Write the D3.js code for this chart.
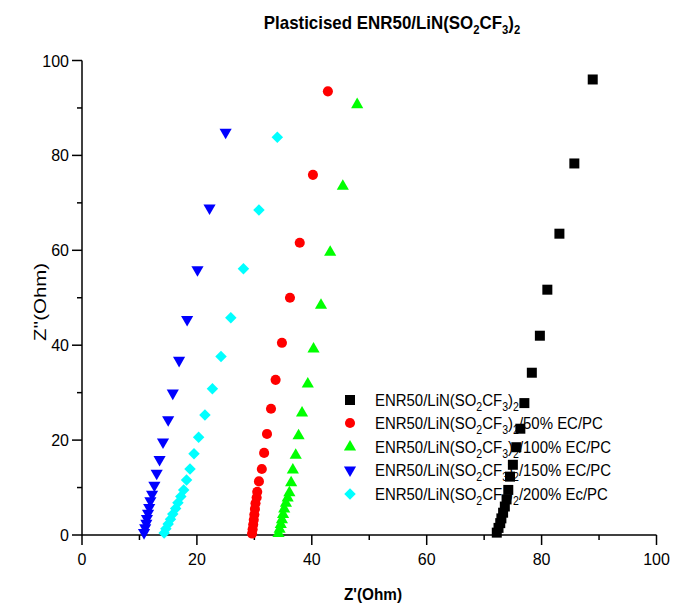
<!DOCTYPE html>
<html><head><meta charset="utf-8">
<script src="https://cdn.jsdelivr.net/npm/d3@7"></script>
<style>body{margin:0;background:#fff}svg{display:block;font-family:Arial,"Liberation Sans",sans-serif}</style>
</head><body><svg id="c" width="676" height="605"></svg>
<script>
const seriesNames = ["", "/50% EC/PC", "/100% EC/PC", "/150% EC/PC", "/200% Ec/PC"];
const seriesColors = ["#000000", "#ff0000", "#00ff00", "#0000ff", "#00ffff"];
const xTicks = [0, 20, 40, 60, 80, 100];
const yTicks = [0, 20, 40, 60, 80, 100];

const zr0 = [72.2,72.5,72.8,73.0,73.3,73.6,73.9,74.2,74.5,75.0,75.6,76.3,77.0,78.3,79.7,81.0,83.1,85.7,88.9];
const zi0 = [0.5,1.5,2.5,3.5,4.7,6.0,7.5,9.5,12.3,14.8,18.5,22.4,27.8,34.2,42.0,51.7,63.5,78.3,96.0];
const zr1 = [29.6,29.7,29.8,29.9,30.0,30.1,30.2,30.4,30.5,30.8,31.3,31.7,32.2,32.9,33.7,34.8,36.2,37.9,40.2,42.8];
const zi1 = [0.3,1.2,2.2,3.2,4.3,5.5,6.7,7.9,9.1,11.3,13.9,17.3,21.3,26.6,32.7,40.5,50.0,61.6,75.9,93.5];
const zr2 = [34.2,34.4,34.6,34.8,35.0,35.2,35.5,35.8,36.1,36.4,36.7,37.2,37.7,38.3,39.3,40.3,41.6,43.2,45.4,47.9];
const zi2 = [0.3,1.2,2.2,3.2,4.3,5.5,6.7,7.8,8.9,11.0,13.7,16.8,20.9,25.7,31.8,39.2,48.4,59.6,73.5,90.7];
const zr3 = [10.8,11.0,11.2,11.3,11.5,11.7,11.9,12.2,12.6,13.0,13.5,14.1,15.0,15.8,16.9,18.3,20.1,22.2,25.0];
const zi3 = [0.5,1.5,2.5,3.5,4.6,5.8,7.2,8.6,10.5,13.0,15.9,19.6,24.3,29.9,36.8,45.4,55.9,68.9,84.9];
const zr4 = [14.3,14.6,15.0,15.4,15.8,16.3,16.7,17.2,17.7,18.2,18.8,19.5,20.3,21.4,22.7,24.2,25.9,28.1,30.8,34.0];
const zi4 = [0.4,1.3,2.3,3.3,4.4,5.6,6.8,8.1,9.5,11.6,13.9,17.1,20.6,25.3,30.8,37.6,45.8,56.1,68.5,83.8];

const allR = [zr0, zr1, zr2, zr3, zr4];
const allI = [zi0, zi1, zi2, zi3, zi4];

const svg = d3.select("#c");
const x = d3.scaleLinear().domain([0, 100]).range([82, 656.5]);
const y = d3.scaleLinear().domain([0, 100]).range([535, 60.5]);

const symDefs = [
  {t: d3.symbolSquare, s: 100, r: 0},
  {t: d3.symbolCircle, s: 80, r: 0},
  {t: d3.symbolTriangle, s: 64, r: 0},
  {t: d3.symbolTriangle, s: 64, r: 180},
  {t: d3.symbolSquare, s: 66, r: 45}
];
function sym(i){ return d3.symbol().type(symDefs[i].t).size(symDefs[i].s)(); }

// axes
const xMinor = d3.range(10, 100, 20);
const yMinor = d3.range(10, 100, 20);
const ax = svg.append("g").attr("stroke", "#000").attr("stroke-width", 1.5);
ax.append("line").attr("x1", x(0)).attr("x2", x(100)).attr("y1", y(0)).attr("y2", y(0));
ax.append("line").attr("x1", x(0)).attr("x2", x(0)).attr("y1", y(0)).attr("y2", y(100));
xTicks.forEach(v => ax.append("line").attr("x1", x(v)).attr("x2", x(v)).attr("y1", y(0)).attr("y2", y(0) + 10));
xMinor.forEach(v => ax.append("line").attr("x1", x(v)).attr("x2", x(v)).attr("y1", y(0)).attr("y2", y(0) + 5));
yTicks.forEach(v => ax.append("line").attr("x1", x(0)).attr("x2", x(0) - 10).attr("y1", y(v)).attr("y2", y(v)));
yMinor.forEach(v => ax.append("line").attr("x1", x(0)).attr("x2", x(0) - 5).attr("y1", y(v)).attr("y2", y(v)));

svg.append("g").selectAll("text").data(xTicks).join("text")
  .attr("x", d => x(d)).attr("y", y(0) + 30).attr("text-anchor", "middle")
  .attr("font-size", 16).text(d => d);
svg.append("g").selectAll("text").data(yTicks).join("text")
  .attr("x", x(0) - 13).attr("y", d => y(d) + 6).attr("text-anchor", "end")
  .attr("font-size", 16).text(d => d);

// axis titles
svg.append("text").attr("transform", `translate(373,600) scale(0.9,1)`).attr("text-anchor", "middle")
  .attr("font-size", 17).attr("font-weight", "bold").text("Z'(Ohm)");
svg.append("text").attr("transform", `translate(46,302) rotate(-90) scale(1.2,1)`).attr("text-anchor", "middle")
  .attr("font-size", 17).text("Z''(Ohm)");

// title
const tt = svg.append("text").attr("transform", "translate(392,29) scale(0.94,1)").attr("text-anchor", "middle")
  .attr("font-size", 18).attr("font-weight", "bold");
tt.append("tspan").text("Plasticised ENR50/LiN(SO");
tt.append("tspan").attr("font-size", 12).attr("dy", 5).text("2");
tt.append("tspan").attr("dy", -5).text("CF");
tt.append("tspan").attr("font-size", 12).attr("dy", 5).text("3");
tt.append("tspan").attr("dy", -5).text(")");
tt.append("tspan").attr("font-size", 12).attr("dy", 5).text("2");

// data points
allR.forEach((rs, i) => {
  svg.append("g").selectAll("path").data(rs.map((r, k) => [r, allI[i][k]])).join("path")
    .attr("d", sym(i))
    .attr("transform", d => `translate(${x(d[0])},${y(d[1])}) rotate(${symDefs[i].r})`)
    .attr("fill", seriesColors[i]);
});

// legend
const legY = [400, 423, 447, 470, 494];
seriesNames.forEach((nm, i) => {
  svg.append("path").attr("d", sym(i))
    .attr("transform", `translate(350,${legY[i]}) rotate(${symDefs[i].r})`)
    .attr("fill", seriesColors[i]);
  const t = svg.append("text").attr("transform", `translate(375,${legY[i] + 6}) scale(0.88,1)`)
    .attr("font-size", 17);
  t.append("tspan").text("ENR50/LiN(SO");
  t.append("tspan").attr("font-size", 12).attr("dy", 5).text("2");
  t.append("tspan").attr("dy", -5).text("CF");
  t.append("tspan").attr("font-size", 12).attr("dy", 5).text("3");
  t.append("tspan").attr("dy", -5).text(")");
  t.append("tspan").attr("font-size", 12).attr("dy", 5).text("2");
  t.append("tspan").attr("dy", -5).text(nm);
});
</script></body></html>
